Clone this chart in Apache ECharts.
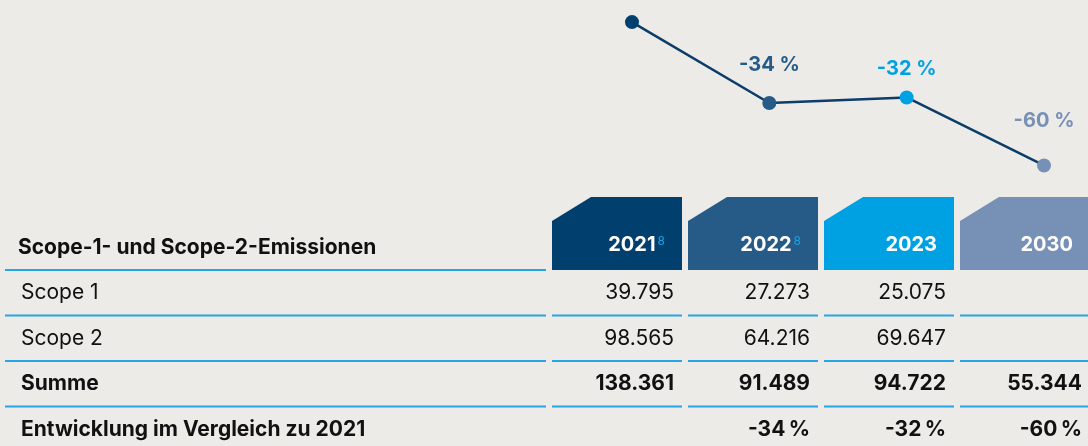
<!DOCTYPE html>
<html>
<head>
<meta charset="utf-8"/>
<title>Scope-1- und Scope-2-Emissionen</title>
<script src="https://cdn.jsdelivr.net/npm/echarts@6/dist/echarts.min.js"></script>
<style>
    html, body { margin: 0; padding: 0; background: #ecebe7; }
    #main { width: 1088px; height: 446px; }
</style>
</head>
<body>
<div id="main"></div>
<script>
    // Daten
    var years = ['2021', '2022', '2023', '2030'];
    var footnotes = ['8', '8', '', ''];
    var headerTitle = 'Scope-1- und Scope-2-Emissionen';
    var rowNames = ['Scope 1', 'Scope 2', 'Summe', 'Entwicklung im Vergleich zu 2021'];
    var scope1 = [39795, 27273, 25075, null];
    var scope2 = [98565, 64216, 69647, null];
    var summe = [138361, 91489, 94722, 55344];
    var entwicklung = [null, -34, -32, -60];

    // Stil
    var yearColors = ['#003f6e', '#265b88', '#00a1e2', '#7790b5'];
    var labelDist = [0, 21, 11, 27];
    var rowBold = [false, false, true, true];
    var sepColor = '#26a6e4';
    var fontFamily = 'Inter, "Noto Sans", sans-serif';

    function fmtNum(v) {
        return String(v).replace(/\B(?=(\d{3})+(?!\d))/g, '.');
    }
    function fmtPct(v, sep) {
        return v + sep + '%';
    }
    function cellText(r, c) {
        var v;
        if (r === 0) v = scope1[c];
        if (r === 1) v = scope2[c];
        if (r === 2) v = summe[c];
        if (r === 3) {
            v = entwicklung[c];
            return v == null ? '' : fmtPct(v, '\u2009');
        }
        return v == null ? '' : fmtNum(v);
    }

    var chart = echarts.init(document.getElementById('main'));

    // Kopfzeile: Jahreskästen
    function renderHeader(params, api) {
        var c = api.value(0);
        var p = api.coord([c, 0]);
        var s = api.size([1, 1]);
        var x0 = p[0] - s[0] / 2, x1 = x0 + s[0] - 6;
        var y0 = p[1] - s[1] / 2, y1 = p[1] + s[1] / 2;
        var txt = '{y|' + years[c] + '}' + (footnotes[c] ? '{s|' + footnotes[c] + '}' : '');
        return {
            type: 'group',
            children: [
                {
                    type: 'polygon',
                    shape: {points: [[x0, y0 + 24], [x0 + 39, y0], [x1, y0], [x1, y1], [x0, y1]]},
                    style: {fill: yearColors[c]}
                },
                {
                    type: 'text',
                    style: {
                        text: txt, x: x1 - 17, y: y1 - 25, align: 'right', verticalAlign: 'middle',
                        rich: {
                            y: {fontFamily: fontFamily, fontSize: 20, fontWeight: 'bold', fill: '#ffffff', color: '#ffffff'},
                            s: {fontFamily: fontFamily, fontSize: 12, fill: '#1aa3e6', color: '#1aa3e6', padding: [0, 0, 7, 2]}
                        }
                    }
                }
            ]
        };
    }

    function renderHeaderTitle(params, api) {
        var p = api.coord([0, 0]);
        var s = api.size([1, 1]);
        var x0 = p[0] - s[0] / 2, x1 = x0 + s[0] - 6, y1 = p[1] + s[1] / 2;
        return {
            type: 'group',
            children: [
                {type: 'line', shape: {x1: x0, y1: y1, x2: x1, y2: y1}, style: {stroke: sepColor, lineWidth: 2}},
                {
                    type: 'text',
                    style: {
                        text: headerTitle, x: x0 + 13, y: y1 - 22, align: 'left', verticalAlign: 'middle',
                        font: 'bold 21px ' + fontFamily, fill: '#111111'
                    }
                }
            ]
        };
    }

    function renderCell(params, api) {
        var c = api.value(0), r = api.value(1);
        var p = api.coord([c, r]);
        var s = api.size([1, 1]);
        var x0 = p[0] - s[0] / 2, x1 = x0 + s[0] - 6, y1 = p[1] + s[1] / 2;
        return {
            type: 'group',
            children: [
                {type: 'line', shape: {x1: x0, y1: y1, x2: x1, y2: y1}, style: {stroke: sepColor, lineWidth: 2}},
                {
                    type: 'text',
                    style: {
                        text: cellText(r, c), x: x1 - 8, y: p[1], align: 'right', verticalAlign: 'middle',
                        font: (rowBold[r] ? 'bold ' : '') + '21px ' + fontFamily, fill: '#111111'
                    }
                }
            ]
        };
    }

    function renderRowLabel(params, api) {
        var r = api.value(1);
        var p = api.coord([0, r]);
        var s = api.size([1, 1]);
        var x0 = p[0] - s[0] / 2, x1 = x0 + s[0] - 6, y1 = p[1] + s[1] / 2;
        return {
            type: 'group',
            children: [
                {type: 'line', shape: {x1: x0, y1: y1, x2: x1, y2: y1}, style: {stroke: sepColor, lineWidth: 2}},
                {
                    type: 'text',
                    style: {
                        text: rowNames[r], x: x0 + 16, y: p[1], align: 'left', verticalAlign: 'middle',
                        font: (rowBold[r] ? 'bold ' : '') + '21px ' + fontFamily, fill: '#111111'
                    }
                }
            ]
        };
    }

    var cellData = [];
    for (var r = 0; r < rowNames.length; r++) {
        for (var c = 0; c < years.length; c++) {
            cellData.push([c, r]);
        }
    }

    var option = {
        animation: false,
        backgroundColor: '#ecebe7',
        grid: [
            {left: 632, right: 44, top: 2, height: 259, outerBoundsMode: 'none'},
            {left: 552, top: 197, width: 544, height: 73, outerBoundsMode: 'none'},
            {left: 5, top: 197, width: 547, height: 73, outerBoundsMode: 'none'},
            {left: 552, top: 270, width: 544, height: 182, outerBoundsMode: 'none'},
            {left: 5, top: 270, width: 547, height: 182, outerBoundsMode: 'none'}
        ],
        xAxis: [
            {gridIndex: 0, type: 'category', data: years, boundaryGap: false, show: false},
            {gridIndex: 1, type: 'category', data: years, show: false},
            {gridIndex: 2, type: 'category', data: [''], show: false},
            {gridIndex: 3, type: 'category', data: years, show: false},
            {gridIndex: 4, type: 'category', data: [''], show: false}
        ],
        yAxis: [
            {gridIndex: 0, type: 'value', min: 0, max: 150000, show: false},
            {gridIndex: 1, type: 'category', data: ['k'], show: false},
            {gridIndex: 2, type: 'category', data: ['k'], show: false},
            {gridIndex: 3, type: 'category', data: rowNames, inverse: true, show: false},
            {gridIndex: 4, type: 'category', data: rowNames, inverse: true, show: false}
        ],
        series: [
            {
                type: 'line',
                xAxisIndex: 0,
                yAxisIndex: 0,
                symbol: 'circle',
                symbolSize: 14,
                lineStyle: {color: '#0c3c6a', width: 2.5},
                data: summe.map(function (v, i) {
                    return {
                        value: v,
                        itemStyle: {color: yearColors[i]},
                        label: {
                            show: entwicklung[i] != null,
                            position: 'top',
                            distance: labelDist[i],
                            color: yearColors[i],
                            fontFamily: fontFamily,
                            fontSize: 20,
                            fontWeight: 'bold',
                            formatter: entwicklung[i] != null ? fmtPct(entwicklung[i], ' ') : ''
                        }
                    };
                }),
                z: 5
            },
            {
                type: 'custom',
                xAxisIndex: 1,
                yAxisIndex: 1,
                renderItem: renderHeader,
                data: years.map(function (y, i) { return [i, 0]; })
            },
            {
                type: 'custom',
                xAxisIndex: 2,
                yAxisIndex: 2,
                renderItem: renderHeaderTitle,
                data: [[0, 0]]
            },
            {
                type: 'custom',
                xAxisIndex: 3,
                yAxisIndex: 3,
                renderItem: renderCell,
                data: cellData
            },
            {
                type: 'custom',
                xAxisIndex: 4,
                yAxisIndex: 4,
                renderItem: renderRowLabel,
                data: rowNames.map(function (n, i) { return [0, i]; })
            }
        ]
    };

    chart.setOption(option);

    window.onresize = function () {
        chart.resize();
    };
</script>
</body>
</html>
